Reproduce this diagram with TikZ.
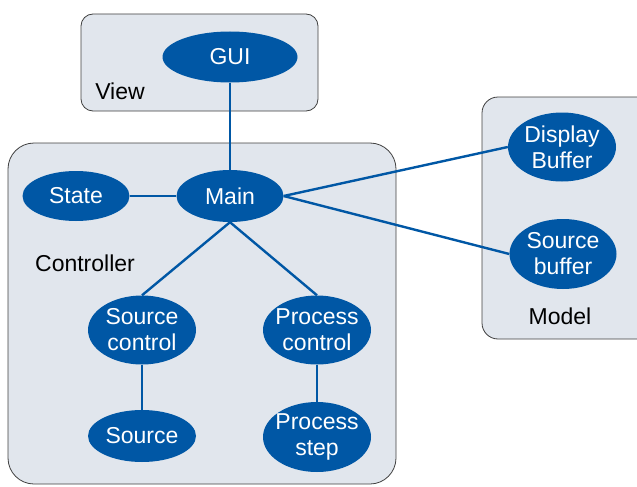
\documentclass[tikz,border=0pt]{standalone}
\usepackage{fontspec}
\setmainfont{Liberation Sans}
\usetikzlibrary{shapes.geometric}
\usepackage{xcolor}
\definecolor{mvcblue}{RGB}{0,87,165}
\definecolor{boxgray}{RGB}{225,230,237}

\begin{document}
\begin{tikzpicture}[x=1pt,y=-1pt,
    part/.style={ellipse,fill=mvcblue,text=white,inner xsep=-12pt,inner ysep=-6pt,
                 align=center,font=\fontsize{23}{26}\selectfont},
    layer/.style={draw=black!75,fill=boxgray,line width=0.8pt},
    layername/.style={font=\fontsize{23}{26}\selectfont},
    link/.style={draw=mvcblue,line width=2.4pt}]

    \clip (0,0) rectangle (637,487);

    % layers
    \draw [layer,rounded corners=12] (81,14) rectangle (318,111);
    \draw [layer,rounded corners=26] (8,143) rectangle (396,484);
    \draw [layer,rounded corners=16] (482,97) rectangle (660,339);

    \node [layername] (view) at (120,91) {View};
    \node [layername] (controller) at (85,263) {Controller};
    \node [layername] (model) at (560,316) {Model};

    % components
    \node [part,minimum width=135,minimum height=51] (gui) at (230,57) {GUI};
    \node [part,minimum width=107,minimum height=50] (state) at (76,196) {State};
    \node [part,minimum width=107,minimum height=52] (main) at (230,196) {Main};
    \node [part,minimum width=108,minimum height=69] (dispbuf) at (562,147) {Display\\Buffer};
    \node [part,minimum width=107,minimum height=70] (srcbuf) at (563,254) {Source\\buffer};
    \node [part,minimum width=108,minimum height=69] (srcctl) at (142,330) {Source\\control};
    \node [part,minimum width=108,minimum height=69] (procctl) at (317,330) {Process\\control};
    \node [part,minimum width=108,minimum height=52] (src) at (142,436) {Source};
    \node [part,minimum width=108,minimum height=70] (procstep) at (317,437) {Process\\step};

    \draw [link] (gui) -- (main);
    \draw [link] (state) -- (main);
    \draw [link] (main.east) -- (dispbuf.west);
    \draw [link] (main.east) -- (srcbuf.west);
    \draw [link] (main.south) -- (srcctl.north);
    \draw [link] (main.south) -- (procctl.north);
    \draw [link] (srcctl) -- (src);
    \draw [link] (procctl) -- (procstep);
\end{tikzpicture}
\end{document}
